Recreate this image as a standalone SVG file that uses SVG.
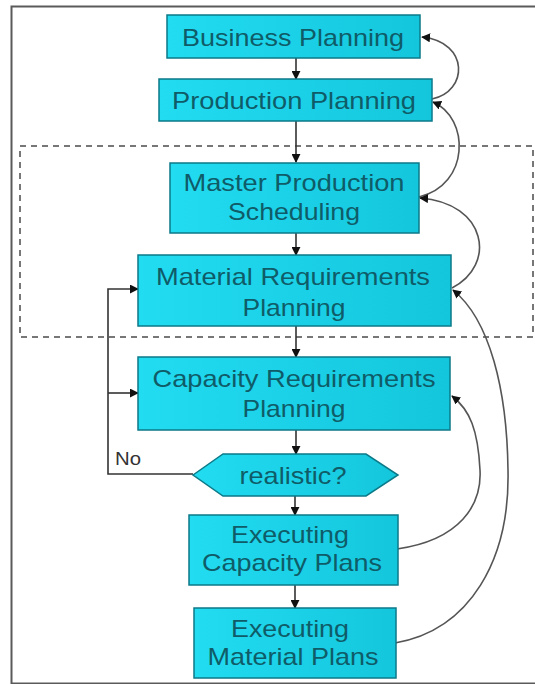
<svg xmlns="http://www.w3.org/2000/svg" width="535" height="684" viewBox="0 0 535 684">
  <defs>
    <linearGradient id="boxFill" x1="0" y1="0" x2="1" y2="0">
      <stop offset="0" stop-color="#22dcf2"/>
      <stop offset="1" stop-color="#14c6dc"/>
    </linearGradient>
    <marker id="arrow" viewBox="0 0 10 10" refX="9" refY="5" markerWidth="9" markerHeight="9" markerUnits="userSpaceOnUse" orient="auto">
      <path d="M0,0 L10,5 L0,10 Z" fill="#111"/>
    </marker>
    <style>
      .box { fill: url(#boxFill); stroke: #0b7a88; stroke-width: 1.5; }
      .lbl { font-family: "Liberation Sans", Arial, sans-serif; font-size: 24px; fill: #0f5c68; text-anchor: middle; }
      .flow { fill: none; stroke: #333; stroke-width: 1.6; }
      .loop { fill: none; stroke: #555; stroke-width: 1.6; }
      .note { font-family: "Liberation Sans", Arial, sans-serif; font-size: 18px; fill: #333; }
    </style>
  </defs>

  <rect x="0" y="0" width="535" height="684" fill="#ffffff"/>
  <!-- outer frame -->
  <rect x="11.5" y="6.5" width="540" height="677" fill="none" stroke="#5a5a5a" stroke-width="2"/>
  <!-- dashed grouping frame -->
  <rect x="20" y="146" width="513" height="191" fill="none" stroke="#777" stroke-width="2" stroke-dasharray="6 5"/>

  <g id="connectors">
    <!-- main downward flow -->
    <line class="flow" x1="296" y1="58" x2="296" y2="79" marker-end="url(#arrow)"/>
    <line class="flow" x1="296" y1="120" x2="296" y2="162" marker-end="url(#arrow)"/>
    <line class="flow" x1="296" y1="233" x2="296" y2="255" marker-end="url(#arrow)"/>
    <line class="flow" x1="296" y1="326" x2="296" y2="357" marker-end="url(#arrow)"/>
    <line class="flow" x1="296" y1="430" x2="296" y2="454" marker-end="url(#arrow)"/>
    <line class="flow" x1="295" y1="496" x2="295" y2="515" marker-end="url(#arrow)"/>
    <line class="flow" x1="295" y1="585" x2="295" y2="608" marker-end="url(#arrow)"/>
    <!-- "No" branch back to MRP and CRP -->
    <polyline class="flow" points="193,474 108,474 108,289 138,289" marker-end="url(#arrow)"/>
    <line class="flow" x1="108" y1="393" x2="138" y2="393" marker-end="url(#arrow)"/>
    <!-- feedback loops on the right -->
    <path class="loop" d="M432,99 C468,92 470,42 422,37" marker-end="url(#arrow)"/>
    <path class="loop" d="M419,197 C470,185 470,118 433,102" marker-end="url(#arrow)"/>
    <path class="loop" d="M452,288 C497,265 487,203 420,198" marker-end="url(#arrow)"/>
    <path class="loop" d="M397,549 C460,540 482,505 480,470 C478,430 470,410 452,396" marker-end="url(#arrow)"/>
    <path class="loop" d="M395,643 C470,630 510,560 508,470 C507,390 490,320 453,290" marker-end="url(#arrow)"/>
  </g>

  <g id="business-planning">
    <rect class="box" x="167" y="15" width="253" height="43"/>
    <text class="lbl" x="293" y="46" textLength="222" lengthAdjust="spacingAndGlyphs">Business Planning</text>
  </g>
  <g id="production-planning">
    <rect class="box" x="159" y="79" width="273" height="42"/>
    <text class="lbl" x="294" y="109" textLength="244" lengthAdjust="spacingAndGlyphs">Production Planning</text>
  </g>
  <g id="master-production-scheduling">
    <rect class="box" x="170" y="163" width="249" height="70"/>
    <text class="lbl" x="294" y="191" textLength="221" lengthAdjust="spacingAndGlyphs">Master Production</text>
    <text class="lbl" x="294" y="220" textLength="132" lengthAdjust="spacingAndGlyphs">Scheduling</text>
  </g>
  <g id="material-requirements-planning">
    <rect class="box" x="138" y="255" width="313" height="71"/>
    <text class="lbl" x="293" y="285" textLength="274" lengthAdjust="spacingAndGlyphs">Material Requirements</text>
    <text class="lbl" x="294" y="316" textLength="103" lengthAdjust="spacingAndGlyphs">Planning</text>
  </g>
  <g id="capacity-requirements-planning">
    <rect class="box" x="138" y="357" width="312" height="73"/>
    <text class="lbl" x="294" y="387" textLength="283" lengthAdjust="spacingAndGlyphs">Capacity Requirements</text>
    <text class="lbl" x="294" y="417" textLength="103" lengthAdjust="spacingAndGlyphs">Planning</text>
  </g>
  <g id="realistic-decision">
    <polygon class="box" points="193,475 223,454 366,454 398,475 366,496 223,496"/>
    <text class="lbl" x="293" y="484" textLength="107" lengthAdjust="spacingAndGlyphs">realistic?</text>
    <text class="note" x="115" y="465" textLength="26" lengthAdjust="spacingAndGlyphs">No</text>
  </g>
  <g id="executing-capacity-plans">
    <rect class="box" x="189" y="515" width="209" height="70"/>
    <text class="lbl" x="290" y="543" textLength="118" lengthAdjust="spacingAndGlyphs">Executing</text>
    <text class="lbl" x="292" y="571" textLength="180" lengthAdjust="spacingAndGlyphs">Capacity Plans</text>
  </g>
  <g id="executing-material-plans">
    <rect class="box" x="194" y="608" width="202" height="70"/>
    <text class="lbl" x="290" y="637" textLength="118" lengthAdjust="spacingAndGlyphs">Executing</text>
    <text class="lbl" x="293" y="665" textLength="171" lengthAdjust="spacingAndGlyphs">Material Plans</text>
  </g>
</svg>
